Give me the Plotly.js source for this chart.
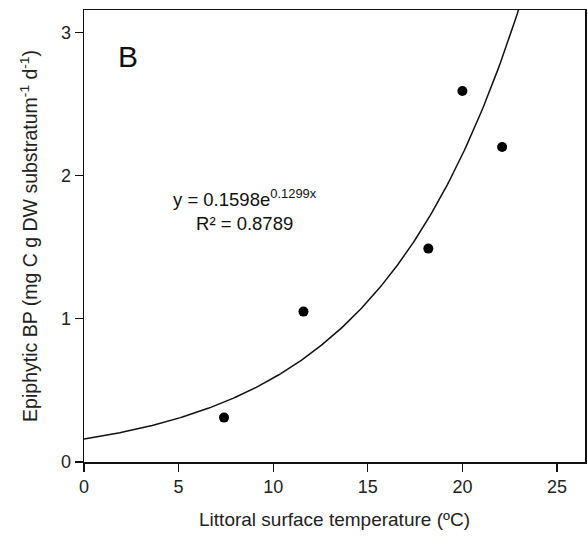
<!DOCTYPE html>
<html>
<head>
<meta charset="utf-8">
<script src="https://cdn.plot.ly/plotly-3.0.1.min.js"></script>
<style>html,body{margin:0;padding:0;background:#fff;}#chart{width:588px;height:538px;}</style>
</head>
<body>
<div id="chart"></div>
<script>
// Observed data
const temperature = [7.4, 11.6, 18.2, 20.0, 22.1];
const epiphyticBP = [0.31, 1.05, 1.49, 2.59, 2.20];

// Exponential fit shown on chart: y = a * e^(b x)
const fitA = 0.1598;
const fitB = 0.1299;
const fitX = [];
for (let i = 0; i <= 240; i++) fitX.push(i * 0.1);
const fitY = fitX.map(x => fitA * Math.exp(fitB * x));

const xTicks = [0, 5, 10, 15, 20, 25];
const yTicks = [0, 1, 2, 3];

const font = 'Liberation Sans, Arial, sans-serif';

const traces = [
  {x: fitX, y: fitY, mode: 'lines', line: {color: '#111', width: 1.5}, hoverinfo: 'skip'},
  {x: temperature, y: epiphyticBP, mode: 'markers', marker: {color: '#000', size: 10}}
];

const axisCommon = {
  showline: true, mirror: true, linecolor: '#111', linewidth: 1.5,
  ticks: 'outside', ticklen: 8, tickwidth: 1.2, tickcolor: '#111',
  showgrid: false, zeroline: false,
  tickfont: {family: font, size: 18, color: '#222'}
};

const layout = {
  width: 588, height: 538,
  margin: {l: 84, r: 3, t: 10, b: 76},
  paper_bgcolor: '#fff', plot_bgcolor: '#fff',
  showlegend: false,
  font: {family: font, color: '#222'},
  xaxis: Object.assign({}, axisCommon, {
    range: [0, 26.48], tickvals: xTicks, automargin: false,
    title: {text: 'Littoral surface temperature (ºC)', font: {family: font, size: 19, color: '#222'}, standoff: 16}
  }),
  yaxis: Object.assign({}, axisCommon, {
    range: [0, 3.156], tickvals: yTicks, automargin: false,
    title: {text: 'Epiphytic BP (mg C g DW substratum<sup>-1</sup> d<sup>-1</sup>)', font: {family: font, size: 19.5, color: '#222'}, standoff: 18}
  }),
  annotations: [
    {xref: 'paper', yref: 'paper', x: 0.063, y: 0.897, text: 'B', showarrow: false,
     font: {family: font, size: 30, color: '#111'}, xanchor: 'left', yanchor: 'middle'},
    {xref: 'x', yref: 'y', x: 8.5, y: 1.76, text: 'y = 0.1598e<sup>0.1299x</sup><br>R² = 0.8789', showarrow: false,
     align: 'center', font: {family: font, size: 18.5, color: '#111'}, xanchor: 'center', yanchor: 'middle'}
  ]
};

Plotly.newPlot('chart', traces, layout, {displayModeBar: false, staticPlot: true});
</script>
</body>
</html>
